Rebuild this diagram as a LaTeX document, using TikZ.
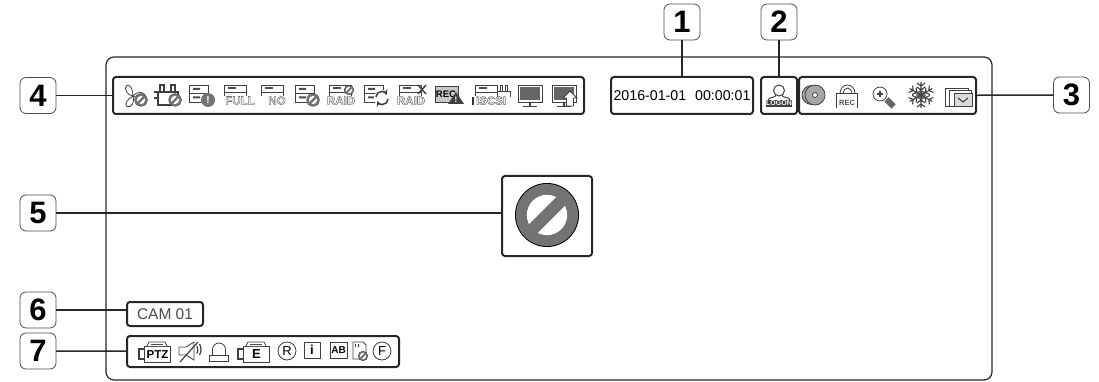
\documentclass[tikz,border=0pt]{standalone}
\usepackage{fontspec}
\setmainfont{Liberation Sans}
\newcommand{\fs}[1]{\fontsize{#1}{#1}\selectfont}
% hollow letters
\newcommand{\hollow}[1]{\special{pdf:code 0.45 G 1 Tr 0.55 w}#1\special{pdf:code 0 Tr 0 G}}
\colorlet{icongray}{black!55}
\tikzset{
	labelbox/.style={draw=black!70, line width=0.8pt, rounded corners=6pt, outer sep=0pt, inner sep=0pt, minimum width=36pt, minimum height=36pt, fill=white, font=\fs{31}\bfseries},
	groupbox/.style={draw=black!85, line width=2pt, rounded corners=3pt, outer sep=0pt, inner sep=0pt},
	leadline/.style={draw=black!85, line width=1.5pt},
	icon/.style={draw=black!75, line width=0.8pt},
	word/.style={inner sep=0pt, outer sep=0pt, font=\fs{11.5}\bfseries},
	pics/banmark/.style={code={
		\fill[black] (0,0) circle (#1);
		\fill[icongray] (0,0) circle ({#1*0.97});
		\fill[white] (0,0) circle ({#1*0.63});
		\fill[icongray, rotate=45] ({-#1*0.7},{-#1*0.19}) rectangle ({#1*0.7},{#1*0.19});
	}},
	pics/drive/.style={code={
		\draw[icon, fill=white] (0,0) rectangle (19,17);
		\draw[icon] (0,8.5) -- (19,8.5);
		\fill[black!70] (4,3) rectangle (11,5) (4,11.5) rectangle (11,13.5);
	}},
	pics/driveword/.style={code={
		\draw[icon] (0,11) |- (22,0) -- (22,11);
		\draw[icon] (0,7) -- (22,7);
		\fill[black!70] (4,2.5) rectangle (12,4.5);
	}},
	pics/cctv/.style={code={
		\draw[icon] (7,4) rectangle (33,20);
		\draw[icon, fill=white] (10,4) -- (12,0) -- (28,0) -- (30,4);
		\fill[black!70] (14,1.5) rectangle (26,3);
		\draw[icon, line width=1.1pt] (7,7) -- (2,7) -- (2,17) -- (7,17);
		\node[inner sep=0pt, font=\fs{#1}\bfseries] (t) at (20.5,12.5) {\tikzpictext};
	}},
}
\begin{document}
\begin{tikzpicture}[x=1pt,y=-1pt]
	\useasboundingbox (0,0) rectangle (1099,382);
	% screen outline
	\draw[line width=1.2pt, black!85, rounded corners=8pt] (106,57) rectangle (992,380);

	\node[labelbox] (L_1) at (682,22) {1};
	\node[labelbox] (L_2) at (779,22) {2};
	\node[labelbox] (L_3) at (1071.5,95) {3};
	\node[labelbox] (L_4) at (38,95.5) {4};
	\node[labelbox] (L_5) at (38,213) {5};
	\node[labelbox] (L_6) at (38,310) {6};
	\node[labelbox] (L_7) at (38,351) {7};

	\node[groupbox, minimum width=471pt, minimum height=37pt] (status) at (348.5,95.5) {};
	\node[groupbox, minimum width=142pt, minimum height=37pt, font=\fs{14.2}] (clock) at (682,95.5) {2016-01-01\hspace{5pt} 00:00:01};
	\node[groupbox, minimum width=36pt, minimum height=37pt] (logon) at (779,95.5) {};
	\node[groupbox, minimum width=177pt, minimum height=37pt] (record) at (887.5,95.5) {};
	\node[groupbox, minimum width=90pt, minimum height=80pt] (denied) at (547,216) {};
	\node[groupbox, minimum width=76pt, minimum height=24pt, text=black!70, font=\fs{15.5}] (camera) at (165,314) {CAM 01};
	\node[groupbox, minimum width=272pt, minimum height=31pt] (channel) at (263,351.5) {};

	\draw[leadline] (L_1) -- (clock);
	\draw[leadline] (L_2) -- (logon);
	\draw[leadline] (L_3) -- (record);
	\draw[leadline] (L_4) -- (status);
	\draw[leadline] (L_5) -- (L_5 -| denied.west);
	\draw[leadline] (L_6) -- (L_6 -| camera.west);
	\draw[leadline] (L_7) -- (channel);

	% large mark
	\pic at (547,215) {banmark=32};

	% group 4: fan
	\foreach \a in {110,230,350}
		\draw[icon, shift={(133,96)}, rotate=\a] (0,0) .. controls (2,-5) and (11,-7) .. (12,-2) .. controls (12,2) and (5,2) .. (0,0);
	\pic at (141,100) {banmark=6.5};
	% plug
	\draw[icon, line width=1.1pt] (154,92) -- (158,92) -- (158,105) -- (172,105) (158,98) -- (154,98) (158,92) -- (178,92) -- (178,97) (160,92) -- (160,85) -- (164,85) -- (164,92) (171,92) -- (171,85) -- (175,85) -- (175,92);
	\pic at (175,100) {banmark=6.5};
	% drives
	\pic at (189,85) {drive};
	\fill[icongray] (208,100) circle (7);
	\node[inner sep=0pt, text=white, font=\fs{10}\bfseries] (warn) at (208,100) {!};
	\pic at (224,85) {driveword};
	\node[word] (full) at (240,100.5) {\hollow{FULL}};
	\pic at (261,85) {driveword};
	\node[word, fill=white] (none) at (277,100.5) {\hollow{NO}};
	\pic at (295,85) {drive};
	\pic at (313,100) {banmark=6.5};
	\pic at (329,85) {driveword};
	\pic at (349,90) {banmark=5};
	\node[word] (raid_a) at (341,100.5) {\hollow{RAID}};
	\pic at (364,85) {drive};
	\fill[white] (382,98) circle (8);
	\draw[icon, line width=1.5pt, ->, >=stealth] (376,97) arc (180:340:5.5);
	\draw[icon, line width=1.5pt, ->, >=stealth] (388,99) arc (0:160:5.5);
	\pic at (399,85) {driveword};
	\draw[icon, line width=1.5pt] (418,85) -- (426,94) (426,85) -- (418,94);
	\node[word] (raid_b) at (411,100.5) {\hollow{RAID}};
	% rec warning
	\draw[icon, fill=black!22] (435,86) rectangle (458,102);
	\node[inner sep=0pt, font=\fs{9.5}\bfseries] (rec_a) at (446,94) {REC};
	\fill[black!75] (456,92) -- (464,104) -- (448,104) -- cycle;
	\node[inner sep=0pt, text=white, font=\fs{8}\bfseries] (warn_b) at (456,100) {!};
	% iscsi
	\pic at (475,85) {driveword};
	\draw[icon, fill=white] (497,97) -- (497,91) -- (510,91) -- (510,97) (500,91) -- (500,85) -- (502,85) -- (502,91) (505,91) -- (505,85) -- (507,85) -- (507,91);
	\fill[black!80] (472,97) rectangle (474,105);
	\node[word] (iscsi) at (491,100.5) {\hollow{iSCSI}};
	% monitors
	\foreach \x/\n in {518/a,552/b} {
		\draw[icon, fill=white] (\x,85) rectangle ++(24,17);
		\fill[black!60] (\x+2,87) rectangle ++(20,13);
		\draw[icon, line width=1.2pt] (\x+5,106.5) -- ++(14,0) (\x+12,102) -- ++(0,4.5);
	}
	\draw[icon, fill=white] (570,91) -- (577,98) -- (573.5,98) -- (573.5,106) -- (566.5,106) -- (566.5,98) -- (563,98) -- cycle;

	% user
	\draw[icon, line width=1pt] (779,90.5) circle (5.5);
	\draw[icon, line width=1pt] (768,101) .. controls (768,96.5) and (775,98) .. (776,95.5) (790,101) .. controls (790,96.5) and (783,98) .. (782,95.5);
	\node[inner sep=0.6pt, fill=black!75, text=white, font=\fs{7}\bfseries] (logon_t) at (779,103.5) {LOGON};

	% group 3
	\draw[icon, fill=black!35] (811.5,95) circle (9.5);
	\draw[icon, fill=black!35] (815,95) circle (10);
	\draw[icon, fill=white] (815,95) circle (2.5);
	\draw[icon] (840,93.5) arc (180:360:7.5 and 8.5) (843,93.5) arc (180:360:4.5 and 5.5);
	\draw[icon] (836.5,108) |- (857,93.5) -- (857,108);
	\node[inner sep=0pt, text=black!70, font=\fs{7.5}\bfseries] (rec_b) at (847,103) {REC};
	\draw[icon, fill=white] (880,94) circle (7);
	\draw[icon, line width=1.2pt] (877,94) -- (883,94) (880,91) -- (880,97);
	\fill[black!60, shift={(890,103)}, rotate=-45] (-5,-3) rectangle (5,3);
	\fill[black!55] (921,95) circle (5);
	\foreach \a in {30,90,...,330}
		\draw[icon, shift={(921,95)}, rotate=\a, line width=1.1pt] (0,0) -- (13,0) (5,0) -- (8,-4) (5,0) -- (8,4) (9,0) -- (12,-4) (9,0) -- (12,4);
	\draw[icon, fill=white] (945,88) rectangle (968,106);
	\draw[icon, fill=white] (949,90) rectangle (971,106);
	\draw[icon, fill=black!15] (954,93) rectangle (972,106);
	\draw[icon, line width=1.1pt] (958,98) -- (963,102) -- (968,98);

	% group 7
	\pic[pic text=PTZ] at (137,342) {cctv=11.5};
	\draw[icon] (179,347) -- (186,347) -- (194,342) -- (194,360) -- (186,355) -- (179,355) -- cycle;
	\draw[icon, line width=1.2pt] (180,362) -- (198,342);
	\draw[icon, line width=1.2pt] (197,346) arc (-25:25:9);
	\draw[icon, line width=1.2pt] (199.5,344) arc (-30:30:11);
	\draw[icon] (209.5,361) -- (209.5,355) -- (228,355) -- (228,361) -- cycle;
	\draw[icon] (212.5,355) -- (212.5,349.5) arc (180:360:6.5) -- (225.5,355);
	\pic[pic text=E] at (236,342) {cctv=13};
	\draw[icon] (287,351) circle (9);
	\node[inner sep=0pt, font=\fs{13}] (rmark) at (287,351) {R};
	\draw[icon] (304.5,342) rectangle (320,358);
	\node[inner sep=0pt, font=\fs{13}\bfseries] (imark) at (312,350) {i};
	\draw[icon] (330,342) rectangle (347,358);
	\node[inner sep=0pt, font=\fs{10}\bfseries] (abmark) at (338.5,350) {AB};
	\draw[icon] (353,342) -- (363,342) -- (366,345) -- (366,359) -- (353,359) -- cycle;
	\fill[black!70] (355,344) rectangle (356,347) (358,344) rectangle (359,347);
	\pic at (363,356) {banmark=5};
	\draw[icon] (382,351) circle (9);
	\node[inner sep=0pt, font=\fs{13}] (fmark) at (382,351) {F};
\end{tikzpicture}
\end{document}
